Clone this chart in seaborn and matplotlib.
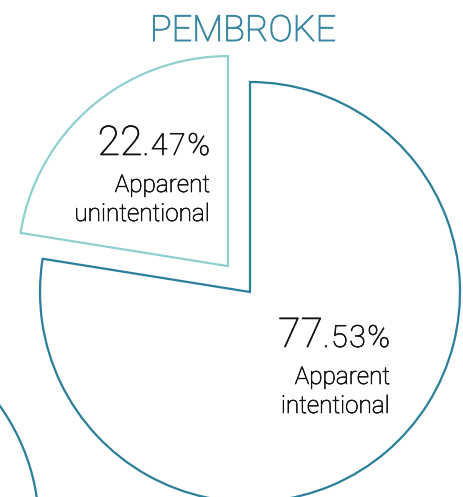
import matplotlib
matplotlib.use("Agg")
import matplotlib.pyplot as plt
import matplotlib.patheffects as pe
import seaborn as sns
from matplotlib.patches import Circle

# ---- data ----
title = "PEMBROKE"
categories = ["Apparent\nintentional", "Apparent\nunintentional"]
shares = [77.53, 22.47]

# ---- style / layout ----
edge_colors = ["#2b7f98", "#8fcfcf"]
title_color = "#3a87a1"
W, H = 463, 497

sns.set_theme(style="white")
plt.rcParams['font.family'] = ['Roboto', 'DejaVu Sans']

fig = plt.figure(figsize=(W / 100, H / 100), dpi=100)
ax = fig.add_axes([0, 0, 1, 1])

cx, cy, r = 250, H - 292, 210
explode = [0, 34]
wedges, _ = ax.pie(shares, startangle=90, counterclock=False, radius=r,
                   center=(cx, cy), explode=explode,
                   wedgeprops=dict(facecolor="white", linewidth=1.6,
                                   joinstyle="miter"))
for w, c in zip(wedges, edge_colors):
    w.set_edgecolor(c)

# fragment of neighbouring pie (bottom-left)
ax.add_patch(Circle((-171, H - 528), 210, facecolor="none",
                    edgecolor=edge_colors[0], linewidth=1.6))

ax.set_xlim(0, W)
ax.set_ylim(0, H)
ax.set_aspect("equal")
ax.axis("off")

ax.text(243, H - 41, title, ha="center", va="baseline", fontsize=26,
        color=title_color, fontweight="light",
        path_effects=[pe.withStroke(linewidth=0.7, foreground=title_color)])

fig.canvas.draw()
inv = ax.transData.inverted()
TXT = "#111111"
FX = [pe.withStroke(linewidth=0.45, foreground=TXT)]


def pct_label(x_right, y_base, pct, label):
    s = f"{pct:.2f}%"
    ip, rest = s.split(".")
    # small decimal part, drawn char by char (right to left) with slight tracking
    x = x_right
    for ch in reversed("." + rest):
        t = ax.text(x, H - y_base, ch, ha="right", va="baseline",
                    fontsize=22, color=TXT, fontweight="light", path_effects=FX)
        fig.canvas.draw()
        bb = t.get_window_extent()
        x = inv.transform((bb.x0, bb.y0))[0] - 1.5
    ax.text(x + 1.5, H - y_base, ip, ha="right", va="baseline", fontsize=29.5,
            color=TXT, fontweight="light", path_effects=FX)
    for i, line in enumerate(label.split("\n")):
        ax.text(x_right, H - (y_base + 37 + 29 * i), line, ha="right",
                va="baseline", fontsize=17.5, color=TXT, fontweight="light",
                path_effects=FX)


pct_label(390, 347, shares[0], categories[0])
pct_label(210, 155, shares[1], categories[1])

fig.savefig("out.png", dpi=100)
